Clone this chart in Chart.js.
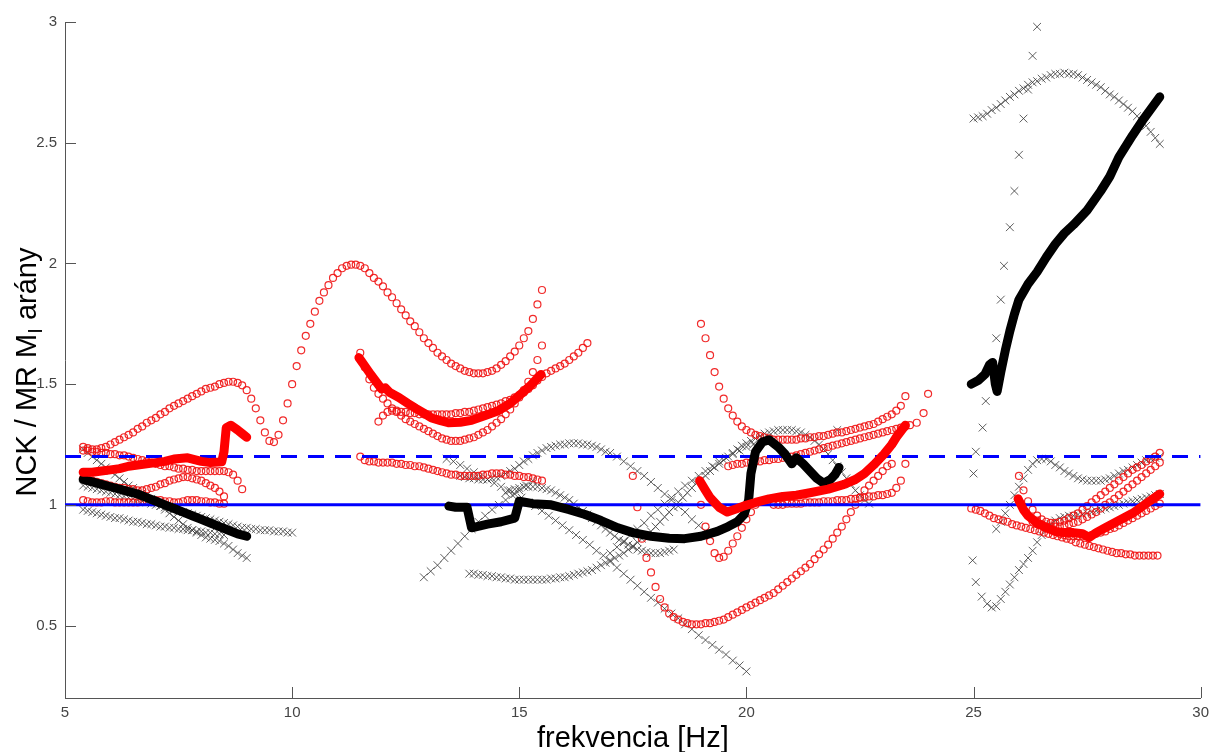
<!DOCTYPE html>
<html>
<head>
<meta charset="utf-8">
<script src="https://cdn.jsdelivr.net/npm/chart.js@4.4.1/dist/chart.umd.min.js"></script>
<style>
  html, body { margin: 0; padding: 0; background: #fff; }
</style>
</head>
<body>
<canvas id="chart-1" width="1215" height="752"></canvas>
<script>
// ====== tengelyek ======
const xTicks = [5, 10, 15, 20, 25, 30];
const yTicks = [0.5, 1, 1.5, 2, 2.5, 3];
const xTitle = 'frekvencia [Hz]';
const yTitleParts = ['NCK / MR M', 'I', ' arány'];

// ====== referencia vonalak ======
const refSolid = [[5, 1], [30, 1]];
const refDashed = [[5, 1.2], [30, 1.2]];

// ====== vastag vonalak (piros / fekete) ======
const redLineA = [[5.4,1.135],[5.6,1.135],[5.8,1.14],[6.0,1.145],[6.2,1.15],[6.4,1.16],[6.6,1.165],[6.8,1.17],[7.0,1.175],[7.2,1.18],[7.4,1.19],[7.7,1.195],[8.0,1.18],[8.2,1.175],[8.45,1.178],[8.5,1.22],[8.55,1.32],[8.65,1.33],[8.8,1.31],[8.9,1.295],[9.0,1.28]];
const blackLineA = [[5.4,1.105],[5.6,1.095],[5.8,1.085],[6.0,1.075],[6.2,1.065],[6.4,1.055],[6.6,1.045],[6.8,1.03],[7.0,1.015],[7.2,1.0],[7.4,0.985],[7.6,0.97],[7.8,0.955],[8.0,0.94],[8.2,0.925],[8.4,0.91],[8.6,0.895],[8.8,0.88],[9.0,0.87]];
const redLineB = [[11.47,1.61],[11.6,1.575],[11.73,1.54],[11.85,1.51],[11.97,1.48],[12.05,1.485],[12.15,1.465],[12.35,1.445],[12.55,1.42],[12.72,1.40],[12.9,1.38],[13.07,1.36],[13.25,1.35],[13.44,1.34],[13.7,1.342],[13.95,1.35],[14.25,1.37],[14.54,1.39],[14.8,1.42],[15.04,1.46],[15.25,1.495],[15.48,1.54]];
const blackLineB = [[13.45,0.995],[13.6,0.99],[13.85,0.99],[13.95,0.905],[14.3,0.92],[14.6,0.93],[14.9,0.945],[15.0,1.015],[15.3,1.005],[15.7,1.0],[16.1,0.98],[16.45,0.96],[16.8,0.935],[17.17,0.905],[17.5,0.885],[17.9,0.87],[18.3,0.862],[18.64,0.86],[19.0,0.87],[19.36,0.89],[19.6,0.91],[19.8,0.93],[19.95,0.96],[20.05,1.02],[20.1,1.13],[20.2,1.22],[20.35,1.26],[20.5,1.27],[20.7,1.24],[20.85,1.21],[21.0,1.17],[21.1,1.195],[21.25,1.17],[21.4,1.14],[21.55,1.11],[21.7,1.09],[21.85,1.105],[21.95,1.125],[22.04,1.155]];
const redLineC = [[18.97,1.10],[19.1,1.06],[19.2,1.03],[19.4,0.99],[19.58,0.97],[19.8,0.985],[19.95,0.996],[20.2,1.01],[20.5,1.025],[20.8,1.035],[21.1,1.04],[21.4,1.05],[21.8,1.065],[22.15,1.085],[22.4,1.105],[22.6,1.13],[22.8,1.165],[23.03,1.21],[23.2,1.25],[23.3,1.28],[23.5,1.33]];
const blackLineD = [[24.95,1.50],[25.1,1.515],[25.25,1.54],[25.35,1.58],[25.42,1.59],[25.48,1.50],[25.52,1.47],[25.6,1.55],[25.7,1.64],[25.8,1.72],[25.9,1.79],[26.0,1.85],[26.2,1.915],[26.4,1.965],[26.6,2.025],[26.8,2.08],[27.0,2.125],[27.2,2.16],[27.5,2.22],[27.8,2.30],[28.0,2.36],[28.2,2.44],[28.5,2.53],[28.75,2.60],[29.1,2.69]];
const redLineD = [[25.98,1.025],[26.1,0.98],[26.2,0.955],[26.4,0.925],[26.6,0.905],[26.8,0.89],[27.0,0.885],[27.2,0.885],[27.4,0.88],[27.55,0.865],[27.7,0.885],[27.9,0.905],[28.2,0.935],[28.5,0.965],[28.8,1.005],[29.1,1.045]];

// ====== piros körök ======
const circA1 = [[5.4,1.24],[5.5,1.235],[5.6,1.23],[5.7,1.23],[5.8,1.235],[5.9,1.24],[6.0,1.25],[6.1,1.26],[6.2,1.27],[6.3,1.28],[6.4,1.29],[6.5,1.30],[6.6,1.315],[6.7,1.325],[6.8,1.34],[6.9,1.35],[7.0,1.36],[7.1,1.375],[7.2,1.385],[7.3,1.40],[7.4,1.41],[7.5,1.42],[7.6,1.43],[7.7,1.44],[7.8,1.45],[7.9,1.46],[8.0,1.47],[8.1,1.48],[8.2,1.485],[8.3,1.49],[8.4,1.50],[8.5,1.505],[8.6,1.51],[8.7,1.51],[8.8,1.505],[8.9,1.495],[9.0,1.475],[9.1,1.44],[9.2,1.40],[9.3,1.35],[9.4,1.30],[9.5,1.265],[9.6,1.26],[9.7,1.29],[9.8,1.35],[9.9,1.42],[10.0,1.50],[10.1,1.575],[10.2,1.64],[10.3,1.70],[10.4,1.75],[10.5,1.80],[10.6,1.845],[10.7,1.88],[10.8,1.91],[10.9,1.94],[11.0,1.96],[11.1,1.98],[11.2,1.99],[11.3,1.995],[11.4,1.995],[11.5,1.99],[11.6,1.98],[11.7,1.96],[11.8,1.94],[11.9,1.925],[12.0,1.905],[12.1,1.88],[12.2,1.86],[12.3,1.835],[12.4,1.81],[12.5,1.785],[12.6,1.76],[12.7,1.74],[12.8,1.715],[12.9,1.69],[13.0,1.67],[13.1,1.65],[13.2,1.63],[13.3,1.615],[13.4,1.60],[13.5,1.585],[13.6,1.575],[13.7,1.565],[13.8,1.555],[13.9,1.55],[14.0,1.545],[14.1,1.545],[14.2,1.545],[14.3,1.55],[14.4,1.555],[14.5,1.565],[14.6,1.58],[14.7,1.595],[14.8,1.615],[14.9,1.635],[15.0,1.66],[15.1,1.69],[15.2,1.72],[15.3,1.77],[15.4,1.83],[15.5,1.89]];
const circA2 = [[5.4,1.225],[5.5,1.225],[5.6,1.22],[5.7,1.22],[5.8,1.215],[5.9,1.215],[6.0,1.21],[6.1,1.21],[6.2,1.205],[6.3,1.205],[6.4,1.20],[6.5,1.195],[6.6,1.19],[6.7,1.185],[6.8,1.18],[6.9,1.175],[7.0,1.17],[7.1,1.165],[7.2,1.16],[7.3,1.16],[7.4,1.155],[7.5,1.15],[7.6,1.15],[7.7,1.145],[7.8,1.145],[7.9,1.14],[8.0,1.14],[8.1,1.14],[8.2,1.14],[8.3,1.14],[8.4,1.14],[8.5,1.14],[8.6,1.135],[8.7,1.125],[8.8,1.10],[8.9,1.065]];
const circA3 = [[5.4,1.11],[5.5,1.105],[5.6,1.10],[5.7,1.095],[5.8,1.09],[5.9,1.085],[6.0,1.08],[6.1,1.075],[6.2,1.07],[6.3,1.07],[6.4,1.065],[6.5,1.065],[6.6,1.06],[6.7,1.06],[6.8,1.065],[6.9,1.07],[7.0,1.075],[7.1,1.085],[7.2,1.09],[7.3,1.10],[7.4,1.105],[7.5,1.11],[7.6,1.115],[7.7,1.115],[7.8,1.11],[7.9,1.105],[8.0,1.10],[8.1,1.09],[8.2,1.08],[8.3,1.07],[8.4,1.055],[8.5,1.035]];
const circA4 = [[5.4,1.02],[5.5,1.015],[5.6,1.01],[5.7,1.01],[5.8,1.01],[5.9,1.015],[6.0,1.015],[6.1,1.01],[6.2,1.01],[6.3,1.01],[6.4,1.01],[6.5,1.01],[6.6,1.01],[6.7,1.015],[6.8,1.015],[6.9,1.02],[7.0,1.02],[7.1,1.02],[7.2,1.015],[7.3,1.015],[7.4,1.01],[7.5,1.01],[7.6,1.015],[7.7,1.02],[7.8,1.02],[7.9,1.02],[8.0,1.015],[8.1,1.015],[8.2,1.01],[8.3,1.01],[8.4,1.005],[8.5,1.005]];
const circB1 = [[11.5,1.63],[11.6,1.57],[11.7,1.52],[11.8,1.485],[11.9,1.46],[12.0,1.44],[12.1,1.42],[12.2,1.40],[12.3,1.385],[12.4,1.37],[12.5,1.355],[12.6,1.345],[12.7,1.335],[12.8,1.325],[12.9,1.315],[13.0,1.305],[13.1,1.295],[13.2,1.285],[13.3,1.275],[13.4,1.27],[13.5,1.265],[13.6,1.265],[13.7,1.265],[13.8,1.27],[13.9,1.275],[14.0,1.28],[14.1,1.29],[14.2,1.30],[14.3,1.31],[14.4,1.325],[14.5,1.34],[14.6,1.355],[14.7,1.375],[14.8,1.395],[14.9,1.42],[15.0,1.445],[15.1,1.475],[15.2,1.51],[15.3,1.55],[15.4,1.60],[15.5,1.66]];
const circB2 = [[11.9,1.345],[12.0,1.37],[12.1,1.385],[12.2,1.39],[12.3,1.39],[12.4,1.385],[12.5,1.385],[12.6,1.38],[12.7,1.38],[12.8,1.375],[12.9,1.375],[13.0,1.375],[13.1,1.375],[13.2,1.375],[13.3,1.375],[13.4,1.375],[13.5,1.375],[13.6,1.38],[13.7,1.38],[13.8,1.385],[13.9,1.385],[14.0,1.39],[14.1,1.395],[14.2,1.40],[14.3,1.405],[14.4,1.41],[14.5,1.415],[14.6,1.42],[14.7,1.43],[14.8,1.435],[14.9,1.445],[15.0,1.455],[15.1,1.465],[15.2,1.48],[15.3,1.495],[15.4,1.515],[15.5,1.53],[15.6,1.545],[15.7,1.555],[15.8,1.565],[15.9,1.575],[16.0,1.585],[16.1,1.60],[16.2,1.615],[16.3,1.63],[16.4,1.65],[16.5,1.67]];
const circB3 = [[11.5,1.20],[11.6,1.185],[11.7,1.18],[11.8,1.18],[11.9,1.175],[12.0,1.175],[12.1,1.175],[12.2,1.175],[12.3,1.17],[12.4,1.17],[12.5,1.165],[12.6,1.165],[12.7,1.16],[12.8,1.16],[12.9,1.155],[13.0,1.15],[13.1,1.145],[13.2,1.14],[13.3,1.135],[13.4,1.13],[13.5,1.125],[13.6,1.125],[13.7,1.12],[13.8,1.12],[13.9,1.12],[14.0,1.12],[14.1,1.12],[14.2,1.125],[14.3,1.125],[14.4,1.13],[14.5,1.13],[14.6,1.13],[14.7,1.125],[14.8,1.125],[14.9,1.12],[15.0,1.12],[15.1,1.115],[15.2,1.115],[15.3,1.11],[15.4,1.105],[15.5,1.10]];
const circC1 = [[19.0,1.75],[19.1,1.69],[19.2,1.62],[19.3,1.55],[19.4,1.49],[19.5,1.44],[19.6,1.40],[19.7,1.37],[19.8,1.345],[19.9,1.325],[20.0,1.31],[20.1,1.30],[20.2,1.29],[20.3,1.285],[20.4,1.28],[20.5,1.275],[20.6,1.27],[20.7,1.27],[20.8,1.27],[20.9,1.27],[21.0,1.27],[21.1,1.27],[21.2,1.275],[21.3,1.275],[21.4,1.28],[21.5,1.28],[21.6,1.285],[21.7,1.285],[21.8,1.29],[21.9,1.295],[22.0,1.30],[22.1,1.30],[22.2,1.305],[22.3,1.31],[22.4,1.315],[22.5,1.32],[22.6,1.325],[22.7,1.33],[22.8,1.335],[22.9,1.345],[23.0,1.355],[23.1,1.365],[23.2,1.375],[23.3,1.39],[23.4,1.41],[23.5,1.45]];
const circC2 = [[19.6,1.16],[19.7,1.165],[19.8,1.17],[19.9,1.17],[20.0,1.175],[20.1,1.175],[20.2,1.18],[20.3,1.18],[20.4,1.185],[20.5,1.185],[20.6,1.19],[20.7,1.19],[20.8,1.195],[20.9,1.195],[21.0,1.20],[21.1,1.205],[21.2,1.21],[21.3,1.215],[21.4,1.22],[21.5,1.225],[21.6,1.23],[21.7,1.235],[21.8,1.24],[21.9,1.245],[22.0,1.25],[22.1,1.255],[22.2,1.26],[22.3,1.265],[22.4,1.27],[22.5,1.275],[22.6,1.28],[22.7,1.285],[22.8,1.29],[22.9,1.295],[23.0,1.30],[23.1,1.305],[23.2,1.31],[23.3,1.315],[23.4,1.32],[23.5,1.325],[23.6,1.33],[23.75,1.34],[23.9,1.38],[24.0,1.46]];
const circC3 = [[19.0,1.0],[19.1,0.91],[19.2,0.85],[19.3,0.80],[19.4,0.78],[19.5,0.785],[19.6,0.81],[19.7,0.84],[19.8,0.87],[19.9,0.905],[20.0,0.94],[20.1,0.97],[20.2,1.0]];
const circC4 = [[17.5,1.12],[17.6,0.99],[17.7,0.86],[17.8,0.78],[17.9,0.72],[18.0,0.66],[18.1,0.61],[18.2,0.575],[18.3,0.55],[18.4,0.535],[18.5,0.525],[18.6,0.515],[18.7,0.51],[18.8,0.505],[18.9,0.505],[19.0,0.505],[19.1,0.51],[19.2,0.51],[19.3,0.515],[19.4,0.52],[19.5,0.525],[19.6,0.535],[19.7,0.545],[19.8,0.555],[19.9,0.565],[20.0,0.575],[20.1,0.585],[20.2,0.595],[20.3,0.605],[20.4,0.615],[20.5,0.625],[20.6,0.635],[20.7,0.65],[20.8,0.665],[20.9,0.68],[21.0,0.695],[21.1,0.71],[21.2,0.725],[21.3,0.74],[21.4,0.755],[21.5,0.775],[21.6,0.795],[21.7,0.815],[21.8,0.835],[21.9,0.86],[22.0,0.885],[22.1,0.91],[22.2,0.94],[22.3,0.97],[22.4,1.0],[22.5,1.03],[22.6,1.06],[22.7,1.08],[22.8,1.10],[22.9,1.12],[23.0,1.14],[23.1,1.16],[23.2,1.17]];
const circC5 = [[20.6,1.0],[20.7,1.0],[20.8,1.0],[20.9,1.005],[21.0,1.005],[21.1,1.005],[21.2,1.005],[21.3,1.01],[21.4,1.01],[21.5,1.01],[21.6,1.01],[21.7,1.015],[21.8,1.015],[21.9,1.015],[22.0,1.02],[22.1,1.02],[22.2,1.02],[22.3,1.025],[22.4,1.025],[22.5,1.03],[22.6,1.03],[22.7,1.035],[22.8,1.035],[22.9,1.04],[23.0,1.04],[23.1,1.045],[23.2,1.05],[23.3,1.07],[23.4,1.10],[23.5,1.17]];
const circD1 = [[24.95,0.985],[25.05,0.98],[25.15,0.975],[25.25,0.965],[25.35,0.955],[25.45,0.945],[25.55,0.94],[25.65,0.935],[25.75,0.93],[25.85,0.92],[25.95,0.915],[26.05,0.91],[26.15,0.905],[26.25,0.90],[26.35,0.895],[26.45,0.89],[26.55,0.885],[26.65,0.88],[26.75,0.875],[26.85,0.87],[26.95,0.865],[27.05,0.86],[27.15,0.855],[27.25,0.845],[27.35,0.84],[27.45,0.835],[27.55,0.83],[27.65,0.825],[27.75,0.82],[27.85,0.815],[27.95,0.81],[28.05,0.805],[28.15,0.80],[28.25,0.80],[28.35,0.795],[28.45,0.795],[28.55,0.79],[28.65,0.79],[28.75,0.79],[28.85,0.79],[28.95,0.79],[29.05,0.79]];
const circD2 = [[26.0,1.12],[26.1,1.06],[26.2,1.015],[26.3,0.98],[26.4,0.955],[26.5,0.94],[26.6,0.93],[26.7,0.925],[26.8,0.925],[26.9,0.93],[27.0,0.935],[27.1,0.945],[27.2,0.955],[27.3,0.965],[27.4,0.98],[27.5,0.995],[27.6,1.01],[27.7,1.025],[27.8,1.04],[27.9,1.055],[28.0,1.07],[28.1,1.085],[28.2,1.10],[28.3,1.115],[28.4,1.13],[28.5,1.145],[28.6,1.155],[28.7,1.165],[28.8,1.18],[28.9,1.19],[29.0,1.20],[29.1,1.215]];
const circD3 = [[26.3,0.93],[26.4,0.92],[26.5,0.915],[26.6,0.91],[26.7,0.91],[26.8,0.91],[26.9,0.91],[27.0,0.915],[27.1,0.92],[27.2,0.925],[27.3,0.93],[27.4,0.94],[27.5,0.95],[27.6,0.96],[27.7,0.97],[27.8,0.985],[27.9,1.0],[28.0,1.01],[28.1,1.025],[28.2,1.04],[28.3,1.055],[28.4,1.07],[28.5,1.085],[28.6,1.10],[28.7,1.115],[28.8,1.13],[28.9,1.145],[29.0,1.16],[29.1,1.175]];
const circD4 = [[26.4,0.935],[26.5,0.92],[26.6,0.91],[26.7,0.90],[26.8,0.89],[26.9,0.88],[27.0,0.875],[27.1,0.87],[27.2,0.87],[27.3,0.87],[27.4,0.87],[27.5,0.87],[27.6,0.875],[27.7,0.88],[27.8,0.885],[27.9,0.89],[28.0,0.90],[28.1,0.905],[28.2,0.915],[28.3,0.925],[28.4,0.935],[28.5,0.945],[28.6,0.955],[28.7,0.965],[28.8,0.975],[28.9,0.985],[29.0,0.995],[29.1,1.005]];

// ====== szürke keresztek ======
const crossA1 = [[5.4,1.23],[5.5,1.215],[5.6,1.20],[5.7,1.185],[5.8,1.17],[5.9,1.155],[6.0,1.14],[6.1,1.125],[6.2,1.11],[6.3,1.095],[6.4,1.08],[6.5,1.07],[6.6,1.06],[6.7,1.05],[6.8,1.04],[6.9,1.025],[7.0,1.01],[7.1,0.995],[7.2,0.98],[7.3,0.965],[7.4,0.95],[7.5,0.935],[7.6,0.92],[7.7,0.905],[7.8,0.895],[7.9,0.885],[8.0,0.875],[8.1,0.865],[8.2,0.86],[8.3,0.855],[8.4,0.85],[8.5,0.84],[8.6,0.83],[8.7,0.815],[8.8,0.80],[8.9,0.79],[9.0,0.78]];
const crossA2 = [[5.4,1.08],[5.5,1.075],[5.6,1.07],[5.7,1.065],[5.8,1.06],[5.9,1.055],[6.0,1.05],[6.1,1.045],[6.2,1.04],[6.3,1.035],[6.4,1.03],[6.5,1.025],[6.6,1.02],[6.7,1.015],[6.8,1.01],[6.9,1.005],[7.0,1.0],[7.1,0.995],[7.2,0.99],[7.3,0.985],[7.4,0.98],[7.5,0.975],[7.6,0.97],[7.7,0.965],[7.8,0.96],[7.9,0.955],[8.0,0.95],[8.1,0.945],[8.2,0.94],[8.3,0.935],[8.4,0.93],[8.5,0.925],[8.6,0.92],[8.7,0.915],[8.8,0.91],[8.9,0.905],[9.0,0.905],[9.1,0.90],[9.2,0.90],[9.3,0.895],[9.4,0.895],[9.5,0.895],[9.6,0.89],[9.7,0.89],[9.8,0.89],[9.9,0.885],[10.0,0.885]];
const crossA3 = [[5.4,0.98],[5.5,0.975],[5.6,0.97],[5.7,0.965],[5.8,0.96],[5.9,0.955],[6.0,0.95],[6.1,0.945],[6.2,0.945],[6.3,0.94],[6.4,0.935],[6.5,0.93],[6.6,0.93],[6.7,0.925],[6.8,0.92],[6.9,0.92],[7.0,0.915],[7.1,0.91],[7.2,0.91],[7.3,0.905],[7.4,0.905],[7.5,0.90],[7.6,0.90],[7.7,0.895],[7.8,0.895],[7.9,0.89],[8.0,0.89],[8.1,0.885],[8.2,0.885],[8.3,0.88],[8.4,0.88],[8.5,0.875]];
const crossB1 = [[12.9,0.70],[13.05,0.725],[13.2,0.75],[13.35,0.78],[13.5,0.81],[13.65,0.84],[13.8,0.87],[13.95,0.90],[14.1,0.93],[14.25,0.955],[14.4,0.98],[14.55,1.0],[14.7,1.02],[14.85,1.04],[15.0,1.06],[15.15,1.08],[15.3,1.10]];
const crossB2 = [[13.4,1.19],[13.55,1.18],[13.7,1.165],[13.85,1.15],[14.0,1.135],[14.15,1.12],[14.3,1.105],[14.45,1.09],[14.6,1.075],[14.75,1.06],[14.9,1.045],[15.05,1.03],[15.2,1.01],[15.35,0.995],[15.5,0.975],[15.65,0.955],[15.8,0.935],[15.95,0.915],[16.1,0.895],[16.25,0.875],[16.4,0.855],[16.55,0.835],[16.7,0.81],[16.85,0.79],[17.0,0.765],[17.15,0.74],[17.3,0.715],[17.45,0.69],[17.6,0.665],[17.75,0.64],[17.9,0.615],[18.05,0.595],[18.2,0.57],[18.35,0.55],[18.5,0.53],[18.65,0.505],[18.8,0.485],[18.95,0.46],[19.1,0.44],[19.25,0.42],[19.4,0.40],[19.55,0.38],[19.7,0.355],[19.85,0.335],[20.0,0.31]];
const crossB3 = [[13.7,1.12],[13.8,1.115],[13.9,1.11],[14.0,1.11],[14.1,1.105],[14.2,1.105],[14.3,1.105],[14.4,1.11],[14.5,1.115],[14.6,1.12],[14.7,1.13],[14.8,1.14],[14.9,1.15],[15.0,1.165],[15.1,1.18],[15.2,1.19],[15.3,1.205],[15.4,1.215],[15.5,1.225],[15.6,1.235],[15.7,1.24],[15.8,1.245],[15.9,1.25],[16.0,1.25],[16.1,1.255],[16.2,1.255],[16.3,1.255],[16.4,1.25],[16.5,1.25],[16.6,1.245],[16.7,1.24],[16.8,1.23],[16.9,1.22],[17.0,1.215],[17.15,1.20],[17.3,1.18],[17.45,1.16],[17.6,1.14],[17.75,1.12],[17.9,1.095],[18.05,1.07],[18.2,1.045],[18.35,1.02],[18.5,0.995],[18.65,0.97],[18.8,0.94],[18.95,0.915],[19.1,0.89],[19.2,0.87]];
const crossB4 = [[13.9,0.715],[14.0,0.715],[14.1,0.71],[14.2,0.71],[14.3,0.705],[14.4,0.705],[14.5,0.70],[14.6,0.70],[14.7,0.695],[14.8,0.695],[14.9,0.69],[15.0,0.69],[15.1,0.69],[15.2,0.69],[15.3,0.69],[15.4,0.69],[15.5,0.69],[15.6,0.69],[15.7,0.695],[15.8,0.695],[15.9,0.70],[16.0,0.70],[16.1,0.705],[16.2,0.71],[16.3,0.715],[16.4,0.72],[16.5,0.725],[16.6,0.73],[16.7,0.74],[16.8,0.75],[16.9,0.76],[17.0,0.77],[17.1,0.78],[17.2,0.79],[17.3,0.80],[17.4,0.815],[17.5,0.83],[17.6,0.845],[17.7,0.86],[17.8,0.875],[17.9,0.89],[18.0,0.91],[18.1,0.93],[18.2,0.95],[18.3,0.97],[18.4,0.99],[18.5,1.01],[18.6,1.03],[18.7,1.05],[18.8,1.07],[18.9,1.09],[19.0,1.105],[19.1,1.12],[19.2,1.14],[19.3,1.155],[19.4,1.17],[19.5,1.185],[19.6,1.20],[19.7,1.215],[19.8,1.23],[19.9,1.245],[20.0,1.255],[20.1,1.265],[20.2,1.275],[20.3,1.285],[20.4,1.295],[20.5,1.30],[20.6,1.305],[20.7,1.31],[20.8,1.31],[20.9,1.31],[21.0,1.31],[21.1,1.305],[21.2,1.30],[21.3,1.29],[21.4,1.28],[21.5,1.265],[21.6,1.25],[21.7,1.23],[21.8,1.21],[21.9,1.185],[22.0,1.16],[22.1,1.135],[22.2,1.11],[22.3,1.085],[22.4,1.06],[22.5,1.04],[22.6,1.02],[22.7,1.005]];
const crossB5 = [[14.7,1.05],[14.8,1.06],[14.9,1.065],[15.0,1.07],[15.1,1.075],[15.2,1.075],[15.3,1.075],[15.4,1.075],[15.5,1.07],[15.6,1.065],[15.7,1.06],[15.8,1.05],[15.9,1.04],[16.0,1.03],[16.1,1.02],[16.2,1.005],[16.3,0.99],[16.4,0.975],[16.5,0.96],[16.6,0.945],[16.7,0.93],[16.8,0.915],[16.9,0.90],[17.0,0.885],[17.1,0.87],[17.2,0.855],[17.3,0.845],[17.4,0.835],[17.5,0.825],[17.6,0.815],[17.7,0.81],[17.8,0.805],[17.9,0.80],[18.0,0.80],[18.1,0.80],[18.2,0.805],[18.3,0.81],[18.4,0.815]];
const crossB6 = [[17.0,0.80],[17.15,0.825],[17.3,0.85],[17.45,0.875],[17.6,0.90],[17.75,0.925],[17.9,0.955],[18.05,0.98],[18.2,1.005],[18.35,1.03],[18.5,1.055],[18.65,1.08],[18.8,1.10],[18.95,1.12],[19.1,1.14],[19.25,1.16],[19.4,1.18],[19.55,1.195],[19.7,1.21],[19.85,1.225],[20.0,1.24],[20.15,1.25]];
const crossC1 = [[22.0,1.31]];
const crossD1 = [[25.0,2.60],[25.1,2.605],[25.2,2.61],[25.3,2.62],[25.4,2.635],[25.5,2.645],[25.6,2.66],[25.7,2.675],[25.8,2.69],[25.9,2.70],[26.0,2.715],[26.1,2.725],[26.2,2.74],[26.3,2.75],[26.4,2.755],[26.5,2.765],[26.6,2.77],[26.7,2.78],[26.8,2.785],[26.9,2.785],[27.0,2.79],[27.1,2.785],[27.2,2.785],[27.3,2.78],[27.4,2.77],[27.5,2.76],[27.6,2.75],[27.7,2.74],[27.8,2.73],[27.9,2.715],[28.0,2.70],[28.1,2.69],[28.2,2.675],[28.3,2.66],[28.4,2.645],[28.5,2.63],[28.6,2.61],[28.7,2.59],[28.8,2.57],[28.9,2.545],[29.0,2.52],[29.1,2.495]];
const crossD2 = [[25.0,1.13],[25.05,1.22],[25.2,1.32],[25.27,1.43],[25.4,1.56],[25.5,1.69],[25.6,1.85],[25.67,1.99],[25.8,2.15],[25.9,2.30],[26.0,2.45],[26.1,2.60],[26.2,2.72],[26.3,2.86],[26.4,2.98]];
const crossD3 = [[25.5,0.90],[25.6,0.93],[25.7,0.965],[25.8,1.0],[25.9,1.04],[26.0,1.075],[26.1,1.11],[26.2,1.145],[26.3,1.17],[26.4,1.185],[26.5,1.19],[26.6,1.19],[26.7,1.18],[26.8,1.165],[26.9,1.155],[27.0,1.14],[27.1,1.13],[27.2,1.12],[27.3,1.11],[27.4,1.105],[27.5,1.10],[27.6,1.10],[27.7,1.10],[27.8,1.10],[27.9,1.105],[28.0,1.11],[28.1,1.12],[28.2,1.13],[28.3,1.14],[28.4,1.145],[28.5,1.155],[28.6,1.165],[28.7,1.175],[28.8,1.185],[28.9,1.19],[29.0,1.195],[29.1,1.20]];
const crossD4 = [[24.98,0.77],[25.05,0.68],[25.18,0.62],[25.3,0.59],[25.4,0.575],[25.5,0.58],[25.6,0.61],[25.7,0.64],[25.8,0.67],[25.9,0.70],[26.0,0.73],[26.1,0.755],[26.2,0.78],[26.3,0.81],[26.4,0.845],[26.5,0.875],[26.6,0.90],[26.7,0.92],[26.8,0.935],[26.9,0.945],[27.0,0.95],[27.1,0.955],[27.2,0.955],[27.3,0.96],[27.4,0.96],[27.5,0.965],[27.6,0.97],[27.7,0.975],[27.8,0.98],[27.9,0.985],[28.0,0.99],[28.1,0.995],[28.2,1.0],[28.3,1.005],[28.4,1.01],[28.5,1.015],[28.6,1.02],[28.7,1.025],[28.8,1.03],[28.9,1.035],[29.0,1.04],[29.1,1.045]];

const circleSets = [circA1, circA2, circA3, circA4, circB1, circB2, circB3, circC1, circC2, circC3, circC4, circC5, circD1, circD2, circD3, circD4];
const crossSets = [crossA1, crossA2, crossA3, crossB1, crossB2, crossB3, crossB4, crossB5, crossB6, crossC1, crossD1, crossD2, crossD3, crossD4];
const redLines = [redLineA, redLineB, redLineC, redLineD];
const blackLines = [blackLineA, blackLineB, blackLineD];

const pts = arr => arr.map(p => ({ x: p[0], y: p[1] }));
const FONT = '"Liberation Sans", Arial, sans-serif';

const datasets = [];
redLines.forEach(d => datasets.push({ data: pts(d), showLine: true, pointRadius: 0, borderColor: '#ff0000', borderWidth: 9, borderCapStyle: 'round', borderJoinStyle: 'round', order: 0 }));
blackLines.forEach(d => datasets.push({ data: pts(d), showLine: true, pointRadius: 0, borderColor: '#000000', borderWidth: 9, borderCapStyle: 'round', borderJoinStyle: 'round', order: 0 }));
datasets.push({ data: pts(refSolid), showLine: true, pointRadius: 0, borderColor: '#0000ff', borderWidth: 3, order: 1 });
datasets.push({ data: pts(refDashed), showLine: true, pointRadius: 0, borderColor: '#0000ff', borderWidth: 3, borderDash: [16, 11], order: 1 });
circleSets.forEach(d => datasets.push({ data: pts(d), pointStyle: 'circle', pointRadius: 3.5, pointBorderWidth: 1.2, pointBorderColor: 'rgba(240,20,20,0.9)', pointBackgroundColor: 'rgba(0,0,0,0)', order: 2 }));
crossSets.forEach(d => datasets.push({ data: pts(d), pointStyle: 'crossRot', pointRadius: 5.5, pointBorderWidth: 1, pointBorderColor: 'rgba(55,55,55,0.8)', order: 3 }));

// tengely kiegészítők: befelé álló osztások + feliratok
const axisExtras = {
  id: 'axisExtras',
  afterDraw(chart) {
    const { ctx, chartArea: a, scales: { x, y } } = chart;
    ctx.save();
    ctx.strokeStyle = '#555';
    ctx.lineWidth = 1;
    ctx.beginPath();
    xTicks.forEach(v => {
      const px = Math.round(x.getPixelForValue(v)) + 0.5;
      ctx.moveTo(px, a.bottom);
      ctx.lineTo(px, a.bottom - 11);
    });
    yTicks.forEach(v => {
      const py = Math.round(y.getPixelForValue(v)) + 0.5;
      ctx.moveTo(a.left, py);
      ctx.lineTo(a.left + 11, py);
    });
    ctx.stroke();

    ctx.fillStyle = '#000';
    ctx.font = '29px ' + FONT;
    ctx.textAlign = 'center';
    ctx.textBaseline = 'alphabetic';
    ctx.fillText(xTitle, (a.left + a.right) / 2, 747);

    // y felirat alsó indexszel
    const big = '29px ' + FONT, small = '20px ' + FONT;
    ctx.translate(36, 372);
    ctx.rotate(-Math.PI / 2);
    ctx.font = big;
    const w1 = ctx.measureText(yTitleParts[0]).width;
    const w3 = ctx.measureText(yTitleParts[2]).width;
    ctx.font = small;
    const w2 = ctx.measureText(yTitleParts[1]).width;
    const start = -(w1 + w2 + w3) / 2;
    ctx.textAlign = 'left';
    ctx.font = big;
    ctx.fillText(yTitleParts[0], start, 0);
    ctx.font = small;
    ctx.fillText(yTitleParts[1], start + w1, 6);
    ctx.font = big;
    ctx.fillText(yTitleParts[2], start + w1 + w2, 0);
    ctx.restore();
  }
};

new Chart(document.getElementById('chart-1'), {
  type: 'scatter',
  data: { datasets },
  options: {
    responsive: false,
    animation: false,
    layout: { padding: { left: 0, right: 10, top: 22, bottom: 0 } },
    plugins: { legend: { display: false }, tooltip: { enabled: false } },
    scales: {
      x: {
        type: 'linear', min: 5, max: 30,
        afterBuildTicks: s => { s.ticks = xTicks.map(v => ({ value: v })); },
        afterFit: s => { s.height = 54; },
        grid: { display: false, drawTicks: false },
        border: { display: true, color: '#555', width: 1 },
        ticks: { color: '#444', font: { size: 15, family: FONT }, padding: 6, maxRotation: 0, callback: v => String(v) }
      },
      y: {
        type: 'linear', min: 0.2, max: 3,
        afterBuildTicks: s => { s.ticks = yTicks.map(v => ({ value: v })); },
        afterFit: s => { s.width = 65; },
        grid: { display: false, drawTicks: false },
        border: { display: true, color: '#555', width: 1 },
        ticks: { color: '#444', font: { size: 15, family: FONT }, padding: 8, callback: v => String(v) }
      }
    }
  },
  plugins: [axisExtras]
});
</script>
</body>
</html>
